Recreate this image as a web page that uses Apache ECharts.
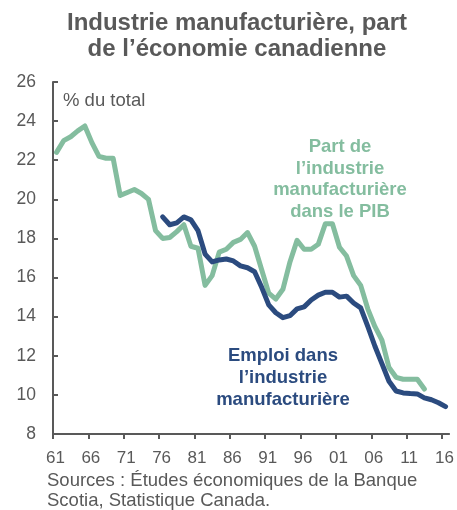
<!DOCTYPE html>
<html>
<head>
<meta charset="utf-8">
<script src="https://cdn.jsdelivr.net/npm/echarts@6/dist/echarts.min.js"></script>
<style>
  html, body { margin: 0; padding: 0; background: #fff; }
  #chart { width: 457px; height: 510px; }
</style>
</head>
<body>
<div id="chart"></div>
<script>
// années 1961 à 2016
const years = []
for (let y = 1961; y <= 2016; y++) years.push(y)

// part de l'industrie manufacturière dans le PIB (%), 1961-2013
const pibShare = [
  22.4, 23.0, 23.2, 23.5, 23.75, 22.9, 22.2, 22.1, 22.1, 20.2,
  20.35, 20.5, 20.3, 20.0, 18.4, 18.0, 18.05, 18.35, 18.7, 17.6,
  17.5, 15.6, 16.1, 17.3, 17.45, 17.8, 17.95, 18.3, 17.6, 16.4,
  15.2, 14.9, 15.4, 16.8, 17.9, 17.45, 17.45, 17.7, 18.75, 18.75,
  17.55, 17.1, 16.1, 15.6, 14.4, 13.5, 12.8, 11.4, 10.9, 10.8,
  10.8, 10.8, 10.3
]

// emploi dans l'industrie manufacturière (%), 1976-2016
const emploiStart = 1976
const emploiShare = [
  19.1, 18.7, 18.8, 19.1, 18.95, 18.4, 17.2, 16.8, 16.9, 16.95,
  16.85, 16.6, 16.5, 16.3, 15.5, 14.6, 14.2, 13.95, 14.05, 14.4,
  14.5, 14.85, 15.1, 15.25, 15.25, 15.0, 15.05, 14.7, 14.45, 13.5,
  12.5, 11.6, 10.7, 10.2, 10.1, 10.07, 10.05, 9.85, 9.75, 9.6,
  9.4
]

const tickYears = years.filter(y => (y - 1961) % 5 === 0)

const grey = '#595959'
const green = '#84bd9f'
const navy = '#2b4b7f'
const font = '"Liberation Sans", Arial, sans-serif'

// points placés au milieu de l'année
const toPoints = (start, arr) => arr.map((v, i) => [start + i + 0.5, v])

const chart = echarts.init(document.getElementById('chart'))
chart.setOption({
  animation: false,
  textStyle: { fontFamily: font },
  title: {
    text: 'Industrie manufacturière, part\nde l’économie canadienne',
    left: 232,
    top: 5,
    textAlign: 'center',
    textStyle: {
      fontSize: 24,
      fontWeight: 'bold',
      color: grey,
      lineHeight: 26,
      fontFamily: font
    }
  },
  grid: {
    left: 53,
    right: 7,
    top: 82,
    bottom: 76
  },
  xAxis: {
    type: 'value',
    min: 1961,
    max: 2017,
    splitLine: { show: false },
    axisLine: { lineStyle: { color: grey, width: 2 } },
    axisTick: {
      customValues: tickYears,
      length: 5,
      lineStyle: { color: grey, width: 2 }
    },
    axisLabel: {
      customValues: tickYears,
      fontSize: 17,
      color: grey,
      margin: 16,
      padding: [0, 0, 0, 5],
      formatter: v => String(v % 100).padStart(2, '0')
    }
  },
  yAxis: {
    type: 'value',
    min: 8,
    max: 26,
    interval: 2,
    splitLine: { show: false },
    axisLine: { show: true, lineStyle: { color: grey, width: 2 } },
    axisTick: {
      show: true,
      inside: true,
      length: 5,
      lineStyle: { color: grey, width: 2 }
    },
    axisLabel: {
      fontSize: 17.5,
      color: grey,
      margin: 17
    }
  },
  graphic: [
    {
      type: 'text',
      left: 63,
      top: 91,
      style: { text: '% du total', fontSize: 18.5, fill: grey, fontFamily: font }
    },
    {
      type: 'text',
      x: 340,
      y: 136,
      style: {
        text: 'Part de\nl’industrie\nmanufacturière\ndans le PIB',
        fontSize: 18.5,
        fontWeight: 'bold',
        lineHeight: 21.7,
        fill: green,
        align: 'center',
        fontFamily: font
      }
    },
    {
      type: 'text',
      x: 283,
      y: 345,
      style: {
        text: 'Emploi dans\nl’industrie\nmanufacturière',
        fontSize: 18.5,
        fontWeight: 'bold',
        lineHeight: 22,
        fill: navy,
        align: 'center',
        fontFamily: font
      }
    },
    {
      type: 'text',
      left: 47,
      top: 471,
      style: {
        text: 'Sources : Études économiques de la Banque\nScotia, Statistique Canada.',
        fontSize: 18.5,
        lineHeight: 20,
        fill: grey,
        fontFamily: font
      }
    }
  ],
  series: [
    {
      name: 'Part de l’industrie manufacturière dans le PIB',
      type: 'line',
      data: toPoints(1961, pibShare),
      showSymbol: false,
      lineStyle: { color: green, width: 5, cap: 'round', join: 'round' },
      z: 2
    },
    {
      name: 'Emploi dans l’industrie manufacturière',
      type: 'line',
      data: toPoints(emploiStart, emploiShare),
      showSymbol: false,
      lineStyle: { color: navy, width: 5, cap: 'round', join: 'round' },
      z: 3
    }
  ]
})
</script>
</body>
</html>
